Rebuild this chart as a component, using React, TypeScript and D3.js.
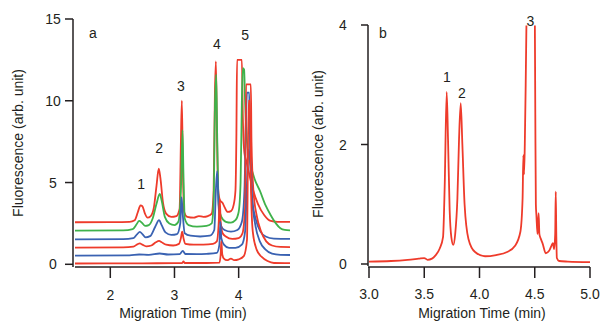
import React from 'react';
import * as d3 from 'd3';

type Pt = [number, number];

// panel a: six electropherograms, stacked with an offset (top to bottom)
const traceA1: Pt[] = [[1.45,2.57],[2.0,2.58],[2.3,2.6],[2.38,2.7],[2.43,3.2],[2.47,3.6],[2.5,3.55],[2.54,3.1],[2.58,2.85],[2.63,2.95],[2.68,3.5],[2.72,4.8],[2.755,5.85],[2.78,5.3],[2.82,3.8],[2.87,3.1],[2.95,2.9],[3.03,2.95],[3.08,3.4],[3.1,7.5],[3.115,10.0],[3.13,6.0],[3.15,3.2],[3.2,2.9],[3.3,2.85],[3.38,2.95],[3.45,2.9],[3.52,2.95],[3.58,3.1],[3.61,4.5],[3.63,10.5],[3.645,12.4],[3.66,8.5],[3.68,4.6],[3.71,3.9],[3.75,3.75],[3.78,3.5],[3.83,3.2],[3.88,3.25],[3.92,3.6],[3.95,4.5],[3.965,8],[3.975,12.5],[4.05,12.5],[4.065,9],[4.09,6.8],[4.12,6.3],[4.16,5.6],[4.22,4.6],[4.3,3.7],[4.4,3.0],[4.5,2.65],[4.6,2.6],[4.8,2.6]];
const traceA2: Pt[] = [[1.45,2.06],[2.2,2.07],[2.35,2.15],[2.41,2.45],[2.45,2.65],[2.49,2.55],[2.54,2.35],[2.6,2.4],[2.66,2.8],[2.72,3.7],[2.77,4.3],[2.8,3.9],[2.85,2.9],[2.92,2.5],[3.0,2.4],[3.06,2.6],[3.1,4.5],[3.125,8.2],[3.14,5.5],[3.16,2.8],[3.22,2.4],[3.35,2.3],[3.5,2.35],[3.58,2.5],[3.61,3.8],[3.63,9.5],[3.65,11.6],[3.665,8],[3.69,3.6],[3.73,2.9],[3.8,2.6],[3.88,2.55],[3.95,2.7],[4.0,3.2],[4.03,5],[4.05,10],[4.065,12.0],[4.085,11.9],[4.1,10],[4.13,7.5],[4.18,6.2],[4.25,5.2],[4.33,4.5],[4.42,3.6],[4.5,3.0],[4.58,2.5],[4.65,2.2],[4.72,2.1],[4.8,2.08]];
const traceA3: Pt[] = [[1.45,1.53],[2.2,1.54],[2.36,1.6],[2.42,1.85],[2.46,1.98],[2.5,1.85],[2.55,1.65],[2.62,1.72],[2.7,2.3],[2.76,2.7],[2.8,2.4],[2.86,1.95],[2.95,1.8],[3.04,1.85],[3.09,2.5],[3.11,4.1],[3.13,3.0],[3.16,1.9],[3.25,1.75],[3.4,1.7],[3.55,1.75],[3.62,2.1],[3.645,4.5],[3.665,5.7],[3.685,3.8],[3.72,2.4],[3.78,2.1],[3.88,2.0],[3.98,2.1],[4.05,2.6],[4.09,4.5],[4.115,9],[4.13,10.5],[4.165,10.5],[4.18,6.5],[4.21,4.0],[4.27,2.7],[4.34,2.0],[4.42,1.7],[4.55,1.57],[4.8,1.55]];
const traceA4: Pt[] = [[1.45,1.02],[2.2,1.03],[2.36,1.08],[2.42,1.22],[2.46,1.28],[2.5,1.2],[2.56,1.1],[2.64,1.15],[2.71,1.35],[2.76,1.43],[2.8,1.35],[2.87,1.2],[2.98,1.15],[3.07,1.25],[3.1,1.6],[3.12,2.0],[3.14,1.6],[3.17,1.25],[3.3,1.2],[3.45,1.2],[3.6,1.25],[3.66,1.4],[3.69,2.6],[3.705,4.0],[3.72,2.6],[3.75,1.9],[3.8,1.7],[3.9,1.55],[4.0,1.6],[4.06,1.9],[4.1,3.5],[4.115,11.0],[4.19,11.0],[4.2,7.5],[4.23,4.5],[4.28,3.0],[4.35,2.0],[4.43,1.4],[4.52,1.15],[4.65,1.06],[4.8,1.05]];
const traceA5: Pt[] = [[1.45,0.53],[2.3,0.55],[2.45,0.6],[2.6,0.58],[2.77,0.66],[2.9,0.6],[3.08,0.62],[3.13,0.82],[3.17,0.63],[3.35,0.62],[3.5,0.64],[3.66,0.7],[3.7,1.2],[3.715,2.6],[3.73,1.6],[3.77,1.2],[3.85,1.0],[3.95,1.0],[4.05,1.2],[4.1,2.0],[4.13,5],[4.15,7.0],[4.18,6.5],[4.21,4.0],[4.26,2.4],[4.33,1.4],[4.42,0.9],[4.52,0.65],[4.65,0.58],[4.8,0.57]];
const traceA6: Pt[] = [[1.45,0.05],[2.5,0.06],[3.0,0.07],[3.12,0.08],[3.14,0.17],[3.16,0.08],[3.5,0.08],[3.7,0.1],[3.72,0.6],[3.73,1.4],[3.745,0.6],[3.77,0.35],[3.82,0.25],[3.88,0.35],[3.93,0.25],[4.0,0.3],[4.08,0.5],[4.13,1.5],[4.155,10.0],[4.175,10.0],[4.19,5],[4.22,2.0],[4.28,0.9],[4.36,0.45],[4.45,0.2],[4.55,0.08],[4.8,0.07]];

const tracesA = [traceA1, traceA2, traceA3, traceA4, traceA5, traceA6];
const traceColorsA = ['#ee3b2b', '#3fb24b', '#3a62b2', '#ee3b2b', '#3a62b2', '#ee3b2b'];
const peakLabelsA = [
  { t: 2.48, v: 4.9, text: '1' },
  { t: 2.76, v: 7.1, text: '2' },
  { t: 3.1, v: 10.9, text: '3' },
  { t: 3.66, v: 13.5, text: '4' },
  { t: 4.1, v: 14.0, text: '5' },
];
const xTicksA = [2, 3, 4];
const yTicksA = [0, 5, 10, 15];

// panel b: single trace (peak 3 runs off the top of the axis)
const traceB: Pt[] = [[3.0,0.04],[3.2,0.05],[3.35,0.07],[3.45,0.09],[3.5,0.1],[3.53,0.07],[3.57,0.09],[3.6,0.14],[3.64,0.26],[3.67,0.45],[3.685,1.3],[3.703,2.88],[3.715,2.1],[3.73,0.9],[3.745,0.45],[3.763,0.32],[3.78,0.5],[3.8,1.1],[3.815,2.1],[3.83,2.69],[3.845,2.0],[3.865,1.0],[3.9,0.42],[3.96,0.2],[4.05,0.13],[4.15,0.15],[4.25,0.2],[4.32,0.3],[4.37,0.54],[4.39,1.1],[4.397,1.82],[4.403,1.5],[4.41,2.0],[4.418,3.0],[4.426,4.2],[4.44,6],[4.49,6],[4.5,4.4],[4.505,2.5],[4.51,1.0],[4.515,0.82],[4.525,0.5],[4.535,0.85],[4.542,0.5],[4.555,0.42],[4.57,0.35],[4.6,0.18],[4.63,0.22],[4.65,0.3],[4.665,0.35],[4.675,0.25],[4.685,0.5],[4.69,1.21],[4.695,0.5],[4.7,0.1],[4.72,0.05],[4.8,0.04],[5.0,0.03]];
const peakLabelsB = [
  { t: 3.705, v: 3.13, text: '1' },
  { t: 3.84, v: 2.87, text: '2' },
  { t: 4.46, v: 4.06, text: '3' },
];
const xTicksB = [3.0, 3.5, 4.0, 4.5, 5.0];
const yTicksB = [0, 2, 4];

const FONT = '"Liberation Sans", Arial, sans-serif';
const INK = '#231f20';

const App = () => {
  const xa = d3.scaleLinear().domain([1.45, 4.8]).range([75, 290]);
  const ya = d3.scaleLinear().domain([0, 15]).range([264.3, 19]);
  const xb = d3.scaleLinear().domain([3, 5]).range([369, 590]);
  const yb = d3.scaleLinear().domain([0, 4]).range([264, 25]);

  const lineA = d3.line<Pt>().x(d => xa(d[0])).y(d => ya(d[1])).curve(d3.curveMonotoneX);
  const lineB = d3.line<Pt>().x(d => xb(d[0])).y(d => yb(d[1])).curve(d3.curveMonotoneX);

  const txt = { fontFamily: FONT, fontSize: 14, fill: INK } as const;

  return (
    <svg width={601} height={324} style={{ position: 'absolute', left: 0, top: 0, background: '#fff' }}>
      <defs>
        <clipPath id="clipB">
          <rect x={369} y={yb(4) + 0.5} width={225} height={250} />
        </clipPath>
      </defs>

      {/* ---- panel a ---- */}
      <g>
        {tracesA.map((tr, i) => (
          <path key={i} d={lineA(tr) ?? ''} fill="none" stroke={traceColorsA[i]} strokeWidth={1.8} strokeLinejoin="round" />
        ))}
        <line x1={73} x2={73} y1={ya(15)} y2={267} stroke={INK} strokeWidth={1.5} />
        {yTicksA.map(t => (
          <g key={t}>
            <line x1={65} x2={73} y1={ya(t)} y2={ya(t)} stroke={INK} strokeWidth={1.5} />
            <text x={53} y={ya(t)} textAnchor="middle" dominantBaseline="central" {...txt}>{t}</text>
          </g>
        ))}
        <line x1={75} x2={290} y1={267} y2={267} stroke={INK} strokeWidth={1.5} />
        {xTicksA.map(t => (
          <g key={t}>
            <line x1={xa(t)} x2={xa(t)} y1={267} y2={278} stroke={INK} strokeWidth={1.5} />
            <text x={xa(t)} y={295} textAnchor="middle" dominantBaseline="central" {...txt}>{t}</text>
          </g>
        ))}
        <text x={183} y={313} textAnchor="middle" dominantBaseline="central" {...txt}>Migration Time (min)</text>
        <text transform="translate(18,143) rotate(-90)" textAnchor="middle" dominantBaseline="central" {...txt}>Fluorescence (arb. unit)</text>
        <text x={93} y={33} textAnchor="middle" dominantBaseline="central" {...txt}>a</text>
        {peakLabelsA.map(p => (
          <text key={p.text} x={xa(p.t)} y={ya(p.v)} textAnchor="middle" dominantBaseline="central" {...txt}>{p.text}</text>
        ))}
      </g>

      {/* ---- panel b ---- */}
      <g>
        <path d={lineB(traceB) ?? ''} fill="none" stroke="#ee3b2b" strokeWidth={1.8} strokeLinejoin="round" clipPath="url(#clipB)" />
        <line x1={368} x2={368} y1={yb(4)} y2={266} stroke={INK} strokeWidth={1.5} />
        {yTicksB.map(t => (
          <g key={t}>
            <line x1={361} x2={368} y1={yb(t)} y2={yb(t)} stroke={INK} strokeWidth={1.5} />
            <text x={343} y={yb(t)} textAnchor="middle" dominantBaseline="central" {...txt}>{t}</text>
          </g>
        ))}
        <line x1={368} x2={590} y1={267} y2={267} stroke={INK} strokeWidth={1.5} />
        {xTicksB.map(t => (
          <g key={t}>
            <line x1={xb(t)} x2={xb(t)} y1={267} y2={278} stroke={INK} strokeWidth={1.5} />
            <text x={xb(t)} y={294} textAnchor="middle" dominantBaseline="central" {...txt}>{t.toFixed(1)}</text>
          </g>
        ))}
        <text x={482} y={313} textAnchor="middle" dominantBaseline="central" {...txt}>Migration Time (min)</text>
        <text transform="translate(318,144) rotate(-90)" textAnchor="middle" dominantBaseline="central" {...txt}>Fluorescence (arb. unit)</text>
        <text x={383} y={33} textAnchor="middle" dominantBaseline="central" {...txt}>b</text>
        {peakLabelsB.map(p => (
          <text key={p.text} x={xb(p.t)} y={yb(p.v)} textAnchor="middle" dominantBaseline="central" {...txt}>{p.text}</text>
        ))}
      </g>
    </svg>
  );
};

export default App;
